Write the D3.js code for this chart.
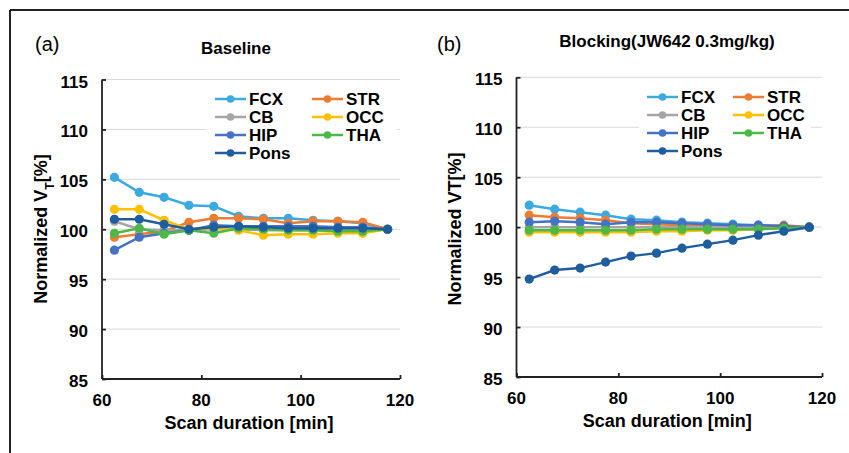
<!DOCTYPE html>
<html>
<head>
<meta charset="utf-8">
<script src="https://cdn.jsdelivr.net/npm/d3@7"></script>
<style>
  body { margin: 0; background: #fff; }
  text { font-family: Arial, "Liberation Sans", sans-serif; }
</style>
</head>
<body>
<script>
// scan durations (min), one point per interval
const times = [62.5, 67.5, 72.5, 77.5, 82.5, 87.5, 92.5, 97.5, 102.5, 107.5, 112.5, 117.5];
const regions = ["FCX", "STR", "CB", "OCC", "HIP", "THA", "Pons"];
const colors = ["#3CAAE1", "#ED7D31", "#A5A5A5", "#FFC000", "#4472C4", "#4DB848", "#1F5E9E"];
const xTicks = [60, 80, 100, 120];
const yTicks = [85, 90, 95, 100, 105, 110, 115];

// (a) baseline
const baseFCX  = [105.2, 103.7, 103.2, 102.4, 102.3, 101.3, 101.1, 101.1, 100.9, 100.8, 100.6, 100.0];
const baseSTR  = [99.2, 99.5, 99.8, 100.7, 101.1, 101.1, 101.0, 100.6, 100.8, 100.8, 100.7, 100.0];
const baseCB   = [100.8, 100.0, 99.9, 99.9, 100.0, 100.0, 99.9, 99.9, 99.9, 99.9, 99.9, 100.0];
const baseOCC  = [102.0, 102.0, 100.9, 100.0, 100.1, 99.9, 99.4, 99.5, 99.5, 99.6, 99.6, 100.0];
const baseHIP  = [97.9, 99.2, 99.6, 99.9, 100.4, 100.3, 100.3, 100.3, 100.3, 100.2, 100.2, 100.0];
const baseTHA  = [99.6, 100.1, 99.5, 99.9, 99.6, 100.1, 100.0, 99.9, 99.9, 99.8, 99.8, 100.0];
const basePons = [101.0, 101.0, 100.5, 100.0, 100.2, 100.3, 100.2, 100.1, 100.1, 100.1, 100.1, 100.0];

// (b) blocking
const blockFCX  = [102.2, 101.8, 101.5, 101.2, 100.8, 100.7, 100.5, 100.4, 100.3, 100.2, 100.1, 100.0];
const blockSTR  = [101.2, 101.0, 100.9, 100.7, 100.4, 100.3, 100.2, 100.1, 100.1, 100.1, 100.2, 100.0];
const blockCB   = [100.0, 100.0, 100.0, 100.0, 100.0, 100.0, 100.0, 100.0, 100.0, 100.0, 100.0, 100.0];
const blockOCC  = [99.5, 99.5, 99.5, 99.5, 99.5, 99.6, 99.6, 99.7, 99.7, 99.8, 99.9, 100.0];
const blockHIP  = [100.5, 100.6, 100.5, 100.3, 100.5, 100.5, 100.4, 100.3, 100.2, 100.2, 100.1, 100.0];
const blockTHA  = [99.7, 99.7, 99.7, 99.7, 99.7, 99.8, 99.8, 99.8, 99.8, 99.8, 99.9, 100.0];
const blockPons = [94.8, 95.7, 95.9, 96.5, 97.1, 97.4, 97.9, 98.3, 98.7, 99.2, 99.6, 100.0];

const W = 849, H = 453;
let svg = d3.select("body").append("svg")
    .attr("width", W)
    .attr("height", H);

// frame (only top and left edges show in the picture)
svg.append("line").attr("x1", 10).attr("y1", 10).attr("x2", W).attr("y2", 10)
    .attr("stroke", "#222").attr("stroke-width", 2);
svg.append("line").attr("x1", 10).attr("y1", 10).attr("x2", 10).attr("y2", H)
    .attr("stroke", "#222").attr("stroke-width", 2);

function draw_panel(p){
    let x = d3.scaleLinear().domain([60, 120]).range([p.left, p.right]);
    let y = d3.scaleLinear().domain([85, 115]).range([p.bottom, p.top]);
    let g = svg.append("g");

    // gridlines
    g.selectAll(".grid").data(yTicks.slice(1)).enter().append("line")
        .attr("x1", p.left).attr("x2", p.right)
        .attr("y1", d => y(d)).attr("y2", d => y(d))
        .attr("stroke", "#d9d9d9").attr("stroke-width", 1);

    // axes, ticks pointing inside
    let yAxis = d3.axisLeft(y).tickValues(yTicks).tickSize(-4).tickFormat("");
    let xAxis = d3.axisBottom(x).tickValues(xTicks).tickSize(-4).tickFormat("");
    g.append("g").attr("transform", `translate(${p.left},0)`).call(yAxis)
        .call(a => a.selectAll("path,line").attr("stroke", "#222").attr("stroke-width", 1.8))
        .call(a => a.select(".domain").attr("d", `M0,${p.bottom}V${p.top}`));
    g.append("g").attr("transform", `translate(0,${p.bottom})`).call(xAxis)
        .call(a => a.selectAll("path,line").attr("stroke", "#222").attr("stroke-width", 1.8))
        .call(a => a.select(".domain").attr("d", `M${p.left},0H${p.right}`));

    // tick labels
    g.selectAll(".ylab").data(yTicks).enter().append("text")
        .attr("x", p.left - 14).attr("y", d => y(d) + 8)
        .attr("text-anchor", "end")
        .style("font-size", "17px").style("font-weight", "bold")
        .text(d => d);
    g.selectAll(".xlab").data(xTicks).enter().append("text")
        .attr("x", d => x(d)).attr("y", p.bottom + 27)
        .attr("text-anchor", "middle")
        .style("font-size", "17px").style("font-weight", "bold")
        .text(d => d);

    // axis titles
    g.append("text")
        .attr("x", (p.left + p.right) / 2 - 2).attr("y", p.bottom + 50)
        .attr("text-anchor", "middle")
        .style("font-size", "18px").style("font-weight", "bold")
        .text("Scan duration [min]");
    let yt = g.append("text")
        .attr("transform", `translate(${p.ylabX},229) rotate(-90)`)
        .attr("text-anchor", "middle")
        .style("font-size", "18px").style("font-weight", "bold");
    if (p.subscript){
        yt.append("tspan").text("Normalized V");
        yt.append("tspan").attr("baseline-shift", "sub").style("font-size", "12px").text("T");
        yt.append("tspan").text("[%]");
    } else {
        yt.text("Normalized VT[%]");
    }

    // panel letter and title
    g.append("text").attr("x", p.letterX).attr("y", 51)
        .style("font-size", "20px").text(p.letter);
    g.append("text").attr("x", p.titleX).attr("y", p.titleY)
        .attr("text-anchor", "middle")
        .style("font-size", "17px").style("font-weight", "bold")
        .text(p.title);

    // legend box covers the gridline behind it
    g.append("rect")
        .attr("x", p.legX - 8).attr("y", p.legY - 13)
        .attr("width", p.legW).attr("height", 76)
        .attr("fill", "#fff");

    // series
    let line = d3.line().x((d, i) => x(times[i])).y(d => y(d));
    p.series.forEach((vals, k) => {
        g.append("path").datum(vals)
            .attr("d", line)
            .attr("fill", "none")
            .attr("stroke", colors[k])
            .attr("stroke-width", 2.5);
        g.selectAll(null).data(vals).enter().append("circle")
            .attr("cx", (d, i) => x(times[i]))
            .attr("cy", d => y(d))
            .attr("r", 4.6)
            .attr("fill", colors[k]);
    });

    // legend, two columns filled row by row
    regions.forEach((name, k) => {
        let lx = p.legX + (k % 2) * p.colGap;
        let ly = p.legY + Math.floor(k / 2) * 18;
        g.append("line").attr("x1", lx).attr("x2", lx + 31)
            .attr("y1", ly).attr("y2", ly)
            .attr("stroke", colors[k]).attr("stroke-width", 2.5);
        g.append("circle").attr("cx", lx + 15.5).attr("cy", ly).attr("r", 3.8)
            .attr("fill", colors[k]);
        g.append("text").attr("x", lx + 34).attr("y", ly + 6)
            .style("font-size", "17px").style("font-weight", "bold")
            .text(name);
    });
}

draw_panel({
    left: 102, right: 400, top: 79.5, bottom: 379,
    ylabX: 47, subscript: true,
    letter: "(a)", letterX: 35,
    title: "Baseline", titleX: 236, titleY: 54,
    legX: 215, legY: 99, colGap: 97, legW: 190,
    series: [baseFCX, baseSTR, baseCB, baseOCC, baseHIP, baseTHA, basePons]
});

draw_panel({
    left: 516.5, right: 822, top: 77.3, bottom: 377,
    ylabX: 461, subscript: false,
    letter: "(b)", letterX: 437,
    title: "Blocking(JW642 0.3mg/kg)", titleX: 667, titleY: 47,
    legX: 647, legY: 97, colGap: 86, legW: 172,
    series: [blockFCX, blockSTR, blockCB, blockOCC, blockHIP, blockTHA, blockPons]
});
</script>
</body>
</html>
